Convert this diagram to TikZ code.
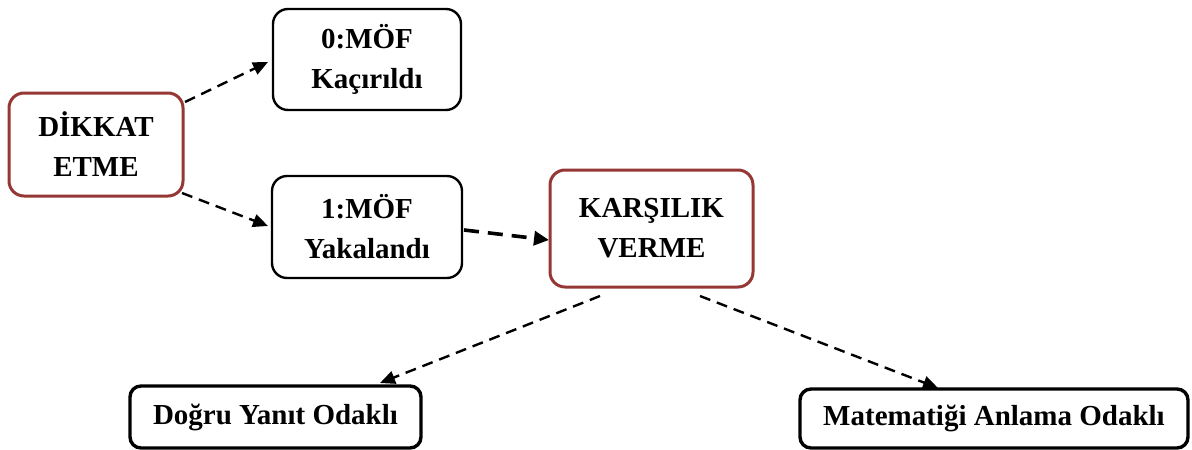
\documentclass[tikz,border=0pt]{standalone}
\usepackage{fontspec}
\setmainfont{Liberation Serif}
\usetikzlibrary{arrows.meta}
\definecolor{boxred}{HTML}{953735}
\begin{document}
\begin{tikzpicture}[x=1pt,y=-1pt,
  every node/.style={font=\fontsize{29}{40}\selectfont\bfseries, align=center,
    inner sep=0pt, outer sep=0pt},
  redbox/.style={draw=boxred, line width=3pt, rounded corners=15pt},
  stagebox/.style={draw=black, line width=2.4pt, rounded corners=15pt},
  focusbox/.style={draw=black, line width=3.4pt, rounded corners=11pt},
  link/.style={line width=2.4pt, dash pattern=on 11pt off 7pt,
    -{Triangle[length=15pt,width=13pt]}},
  boldlink/.style={line width=3.6pt, dash pattern=on 15pt off 9pt,
    -{Triangle[length=15pt,width=14pt]}}]
\useasboundingbox (0,0) rectangle (1192,450);

\node[redbox, minimum width=174pt, minimum height=103pt] (dikkat) at (96,144.5) {DİKKAT\\ETME};
\node[stagebox, minimum width=188pt, minimum height=101pt] (moef0) at (367,59.5) {0:MÖF\\Kaçırıldı};
\node[stagebox, minimum width=190pt, minimum height=102pt] (moef1) at (367,227) {1:MÖF\\Yakalandı};
\node[redbox, minimum width=203pt, minimum height=117pt] (karsilik) at (651.5,228.5) {KARŞILIK\\VERME};
\node[focusbox, minimum width=291pt, minimum height=62pt] (dogru) at (275.5,417) {Doğru Yanıt Odaklı};
\node[focusbox, minimum width=388pt, minimum height=59pt] (anlama) at (994,418.5) {Matematiği Anlama Odaklı};

\draw[link] ([shift={(2,9)}]dikkat.north east) -- ([shift={(-5,2.5)}]moef0.west);
\draw[link] ([shift={(-1,-3)}]dikkat.south east) -- ([shift={(-4,-1)}]moef1.west);
\draw[boldlink] ([shift={(2,3)}]moef1.east) -- ([shift={(-1,11.5)}]karsilik.west);
\draw[link] ([shift={(-51.5,9)}]karsilik.south) -- ([shift={(104.5,-3)}]dogru.north);
\draw[link] ([shift={(48.5,9)}]karsilik.south) -- ([shift={(-56,-1)}]anlama.north);
\end{tikzpicture}
\end{document}
